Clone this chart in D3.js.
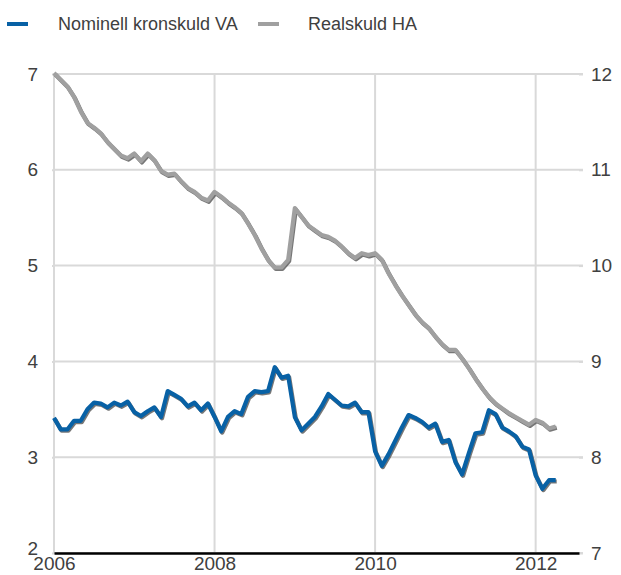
<!DOCTYPE html>
<html><head><meta charset="utf-8">
<script src="https://cdn.jsdelivr.net/npm/d3@7"></script>
<style>body{margin:0;background:#fff}svg{display:block}text{font-family:"Liberation Sans",Arial,sans-serif}</style>
</head><body><svg id="c" width="621" height="575"></svg>
<script>
const seriesNames = ["Nominell kronskuld VA", "Realskuld HA"];
const startYear = 2006;
const nominell = [
 3.41,3.29,3.29,3.38,3.38,3.50,3.57,3.56,3.52,3.57,3.54,3.58,
 3.47,3.43,3.48,3.52,3.42,3.69,3.65,3.61,3.53,3.57,3.49,3.56,
 3.42,3.27,3.42,3.48,3.45,3.63,3.69,3.68,3.69,3.94,3.83,3.85,
 3.42,3.28,3.35,3.42,3.53,3.66,3.60,3.54,3.53,3.57,3.47,3.47,
 3.06,2.91,3.03,3.17,3.31,3.44,3.41,3.37,3.31,3.35,3.16,3.18,
 2.95,2.82,3.04,3.25,3.26,3.49,3.45,3.31,3.27,3.22,3.11,3.08,
 2.81,2.67,2.76,2.76
];
const realskuld = [
 12.01,11.94,11.87,11.76,11.61,11.49,11.44,11.38,11.29,11.22,11.15,11.12,
 11.17,11.09,11.17,11.10,10.99,10.95,10.96,10.88,10.81,10.77,10.71,10.68,
 10.77,10.72,10.66,10.61,10.55,10.44,10.32,10.18,10.06,9.98,9.98,10.06,
 10.60,10.51,10.42,10.37,10.32,10.30,10.26,10.20,10.13,10.08,10.13,10.11,
 10.13,10.06,9.92,9.80,9.69,9.59,9.49,9.41,9.35,9.26,9.18,9.12,
 9.12,9.03,8.93,8.82,8.72,8.63,8.56,8.51,8.46,8.42,8.38,8.34,
 8.39,8.36,8.30,8.32
];
const xTicks = [2006, 2008, 2010, 2012];
const leftTicks = [2, 3, 4, 5, 6, 7];
const rightTicks = [7, 8, 9, 10, 11, 12];

const svg = d3.select("#c");
const L = 54, R = 579, T = 74, B = 553;
const x = d3.scaleLinear().domain([2006, 2012.54]).range([L, R]);
const yL = d3.scaleLinear().domain([2, 7]).range([B, T]);
const yR = d3.scaleLinear().domain([7, 12]).range([B, T]);
const grid = "#d9d9d9", txt = "#404040";

const gL = svg.append("g").attr("transform", `translate(${L},0)`)
  .call(d3.axisLeft(yL).tickValues(leftTicks).tickFormat(d3.format("d")).tickSize(2).tickPadding(14));
gL.select(".domain").remove();
gL.selectAll("line").attr("stroke", grid).attr("stroke-width", 2);
gL.selectAll("text").attr("font-size", 19).attr("fill", txt);
gL.selectAll(".tick").filter(d => d === 2).select("text").attr("dy", "0.1em");

svg.append("g").selectAll("line").data(leftTicks).join("line")
  .attr("x1", L).attr("x2", R + 4).attr("y1", d => yL(d)).attr("y2", d => yL(d))
  .attr("stroke", grid).attr("stroke-width", 2);

const gR = svg.append("g").attr("transform", `translate(${R},0)`)
  .call(d3.axisRight(yR).tickValues(rightTicks).tickFormat(d3.format("d")).tickSize(4).tickPadding(8));
gR.select(".domain").remove();
gR.selectAll("line").attr("stroke", grid).attr("stroke-width", 2);
gR.selectAll("text").attr("font-size", 19).attr("fill", txt);

svg.append("g").selectAll("line").data(xTicks).join("line")
  .attr("x1", d => x(d)).attr("x2", d => x(d)).attr("y1", T).attr("y2", B)
  .attr("stroke", grid).attr("stroke-width", 2);

const gB = svg.append("g").attr("transform", `translate(0,${B})`)
  .call(d3.axisBottom(x).tickValues(xTicks).tickFormat(d3.format("d")).tickSize(0).tickPadding(4));
gB.select(".domain").attr("stroke", "#000").attr("stroke-width", 2.5);
gB.selectAll("text").attr("font-size", 19).attr("fill", txt);

svg.append("defs").append("clipPath").attr("id", "clp")
  .append("rect").attr("x", 0).attr("y", T - 10).attr("width", 621).attr("height", B - T + 8);

function drawLine(data, yS, color) {
  const line = d3.line().x((d, i) => x(startYear + i / 12)).y(d => yS(d));
  const g = svg.append("g").attr("clip-path", "url(#clp)");
  g.append("path").datum(data).attr("d", line).attr("fill", "none")
    .attr("stroke", "#555").attr("stroke-opacity", 0.8).attr("stroke-width", 4.2)
    .attr("stroke-linejoin", "round").attr("transform", "translate(1,1.3)");
  g.append("path").datum(data).attr("d", line).attr("fill", "none")
    .attr("stroke", color).attr("stroke-width", 4.2).attr("stroke-linejoin", "round");
}
drawLine(realskuld, yR, "#a0a0a0");
drawLine(nominell, yL, "#0861a5");

const leg = [{name: seriesNames[0], color: "#0861a5", sx: 7, tx: 58},
             {name: seriesNames[1], color: "#a0a0a0", sx: 258, tx: 308}];
const lg = svg.append("g");
lg.selectAll("rect").data(leg).join("rect")
  .attr("x", d => d.sx).attr("y", 22).attr("width", 21).attr("height", 4).attr("fill", d => d.color);
lg.selectAll("text").data(leg).join("text")
  .attr("x", d => d.tx).attr("y", 30).attr("font-size", 18).attr("fill", txt).text(d => d.name);
</script></body></html>
